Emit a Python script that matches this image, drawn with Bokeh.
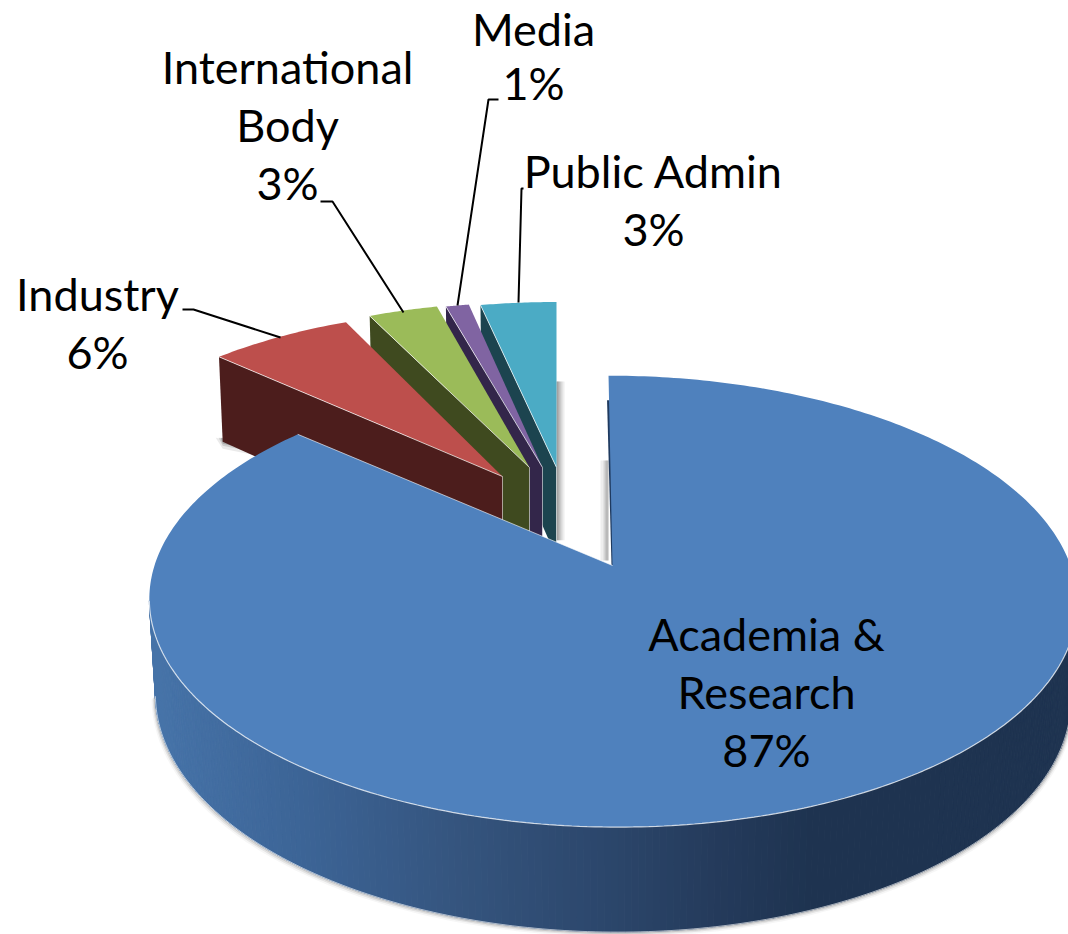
import math
from bokeh.plotting import figure
from bokeh.models import Range1d, ColumnDataSource
from bokeh.core.properties import value
from bokeh.embed import file_html
from bokeh.resources import INLINE

# ---- data
categories = ["Academia & Research", "Industry", "International Body", "Media", "Public Admin"]
shares = [87, 6, 3, 1, 3]

# ---- styles
top_colors = ["#4f81bd", "#bd4f4c", "#9bbb59", "#8064a2", "#4babc5"]
side_colors = ["#2a4468", "#4c1d1c", "#3f4a1f", "#33264a", "#1c444f"]
explode_dx = [0, -110, -83, -70, -56]
explode_dy = [0, 89, 98, 98, 98]
slice_skew = [-4.6, 0, 0, -5.5, 0]
start_tweak_deg = [0, 0, 0, 0, 1.0]
end_tweak_deg = [-2.0, 0.7, 0, 0, 0]

# ---- projection of the disc (px)
CX, CY = 612, 565
A, B, K = 458, 220, 0.159
A2, DEPTH, DEPTH_K = 452, 93.9, 9.36


def s(v):
    return 1 / (1 + K * v)


def top_pt(theta, ax=CX, ev=0.0, skew=0.0):
    u, v = math.sin(theta), math.cos(theta) + ev
    vs = v * s(v)
    return ax + A * u * s(v) + skew * vs, CY - B * vs


def bot_pt(theta, ax=CX, ev=0.0, skew=0.0):
    u, v = math.sin(theta), math.cos(theta) + ev
    vs = v * s(v)
    return ax + A2 * u * s(v) + skew * vs, CY - B * vs + DEPTH - DEPTH_K * vs


def lerp_col(x):
    stops = [(155, (70, 115, 168)), (300, (60, 100, 150)), (450, (53, 85, 127)),
             (630, (42, 68, 104)), (720, (36, 58, 91)), (810, (30, 51, 80)), (1100, (30, 51, 80))]
    for (x0, c0), (x1, c1) in zip(stops, stops[1:]):
        if x <= x1:
            t = max(0.0, (x - x0) / (x1 - x0))
            return "#%02x%02x%02x" % tuple(round(a + (b - a) * t) for a, b in zip(c0, c1))
    return "#1e3350"


W, H = 1068, 934
p = figure(width=W, height=H, x_range=Range1d(0, W), y_range=Range1d(H, 0),
           x_axis_type=None, y_axis_type=None, toolbar_location=None, output_backend="svg",
           min_border=0, outline_line_color=None, background_fill_color="white",
           border_fill_color="white")
p.grid.visible = False

total = sum(shares)
angles = []
acc = 0
for idx, sh in enumerate(shares):
    angles.append((2 * math.pi * acc / total - math.radians(start_tweak_deg[idx]),
                   2 * math.pi * (acc + sh) / total + math.radians(end_tweak_deg[idx])))
    acc += sh


def arc(t0, t1, fn, n=60, **kw):
    return [fn(t0 + (t1 - t0) * i / n, **kw) for i in range(n + 1)]


# ---- exploded slices, back to front
for i in [4, 3, 2, 1]:
    t0, t1 = angles[i]
    ev = explode_dy[i] / (B - K * explode_dy[i])
    apex_vs = ev * s(ev)
    sk = slice_skew[i]
    apex = (CX + explode_dx[i], CY - B * apex_vs)
    ax = apex[0] - sk * apex_vs
    apex_b = (apex[0], apex[1] + DEPTH - DEPTH_K * apex_vs)
    ol_t, ol_b = top_pt(t0, ax, ev, sk), bot_pt(t0, ax, ev, sk)
    if i == 4:
        for w, al in [(8, 0.10), (6, 0.14), (4, 0.2), (2, 0.25)]:
            p.quad(left=[apex[0]], right=[apex[0] + w], top=[apex[1] - 86], bottom=[apex_b[1] - 17],
                   fill_color="#555555", fill_alpha=al, line_color=None)
    if i == 1:
        for w, al in [(7, 0.12), (4, 0.2), (2, 0.3)]:
            xs_ = [ol_b[0] - w, ol_b[0] + 30, ol_b[0] + 30, ol_b[0]]
            ys_ = [ol_b[1] - 4, ol_b[1] - 4 + w, ol_b[1] + w + 6, ol_b[1] + w]
            p.patch(xs_, ys_, fill_color="#555555", fill_alpha=al, line_color=None)
    # radial side wall
    p.patch([ol_t[0], apex[0], apex_b[0], ol_b[0]], [ol_t[1], apex[1], apex_b[1], ol_b[1]],
            fill_color=side_colors[i], line_color=None)
    p.line([apex[0], apex_b[0]], [apex[1], apex_b[1]], line_color="white", line_alpha=0.55, line_width=1)
    # top
    pts = arc(t0, t1, top_pt, ax=ax, ev=ev, skew=sk, n=24)
    xs_ = [apex[0]] + [q[0] for q in pts]
    ys_ = [apex[1]] + [q[1] for q in pts]
    p.patch(xs_, ys_, fill_color=top_colors[i], line_color=None)
    p.line([ol_t[0], apex[0]], [ol_t[1], apex[1]], line_color="white", line_alpha=0.7, line_width=1)

# ---- soft shadow around the main body
SKEW = slice_skew[0]
ts0 = math.radians(99)
ts1 = math.radians(261)
base = arc(ts0, ts1, bot_pt, n=200, skew=SKEW)
for off, al, lw in [(3.0, 0.06, 3), (1.8, 0.13, 2.5), (0.8, 0.25, 2)]:
    xs_ = [q[0] + (-off * 0.8 if q[0] < CX else off * 0.6) for q in base]
    ys_ = [q[1] + off for q in base]
    p.line(xs_, ys_, line_color="#666666", line_alpha=al, line_width=lw)

# ---- main body side wall: gradient strips
N = 220
sx, sy, sc = [], [], []
for j in range(N):
    a0 = ts0 + (ts1 - ts0) * j / N
    a1 = ts0 + (ts1 - ts0) * (j + 1) / N
    q0, q1 = top_pt(a0, skew=SKEW), top_pt(a1, skew=SKEW)
    r0, r1 = bot_pt(a0, skew=SKEW), bot_pt(a1, skew=SKEW)
    sx.append([q0[0], q1[0], r1[0], r0[0]])
    sy.append([q0[1], q1[1], r1[1], r0[1]])
    sc.append(lerp_col((q0[0] + q1[0]) / 2))
src = ColumnDataSource(dict(xs=sx, ys=sy, c=sc))
p.patches("xs", "ys", source=src, fill_color="c", line_color="c", line_width=1)
p.line([q[0] for q in base], [q[1] for q in base], line_color="white", line_alpha=0.6, line_width=1)

# ---- gap shadow and dark sliver along the main slice's start edge
t0, t1 = angles[0]
start = top_pt(t0, skew=SKEW)
for w, al in [(8, 0.10), (5, 0.16), (3, 0.22)]:
    p.quad(left=[CX - 4 - w], right=[CX - 4], top=[CY - 105], bottom=[CY - 5],
           fill_color="#555555", fill_alpha=al, line_color=None)

# ---- main top face
pts = arc(t0, t1, top_pt, n=360, skew=SKEW)
apx, apy = CX, CY
p.patch([start[0] + (apx - start[0]) * 0.13 - 2, apx - 1, apx + 1, start[0] + (apx - start[0]) * 0.13 + 1],
        [start[1] + (apy - start[1]) * 0.13, apy, apy, start[1] + (apy - start[1]) * 0.13],
        fill_color="#1f3a5f", line_color=None)
p.patch([apx] + [q[0] for q in pts], [apy] + [q[1] for q in pts],
        fill_color=top_colors[0], line_color=None)
front = arc(ts0, ts1, top_pt, n=200, skew=SKEW)
p.line([q[0] for q in front], [q[1] for q in front], line_color="white", line_alpha=0.75, line_width=1.2)
end = pts[-1]
p.line([end[0], apx], [end[1], apy], line_color="white", line_alpha=0.6, line_width=1)

# ---- leader lines
lead_x = [[182, 193, 280], [320, 332, 403], [498, 488, 457], [523, 521, 518]]
lead_y = [[309, 309, 337], [201, 201, 312], [99, 99, 305], [188, 188, 302]]
p.multi_line(lead_x, lead_y, line_color="black", line_width=2)

# ---- labels
BASE_FIX = -19
label_lines = [
    (["Academia &", "Research", f"{shares[0]}%"], 766, 652),
    (["Industry", f"{shares[1]}%"], 97, 312),
    (["International", "Body", f"{shares[2]}%"], 287, 85),
    (["Media", f"{shares[3]}%"], 533, 43),
    (["Public Admin", f"{shares[4]}%"], 653, 189),
]
tx, ty, tt = [], [], []
for lines, cx_, by in label_lines:
    for k, t in enumerate(lines):
        tx.append(cx_)
        # the top line must keep its whole text box inside the page
        ty.append(max(by + 58 * k + BASE_FIX, 28))
        tt.append(t)
p.text(tx, ty, text=tt, text_font=value("Lato"), text_font_size=value("45px"),
       text_color="black", text_align="center", text_baseline="middle")

open("out.html", "w").write(file_html(p, INLINE))
